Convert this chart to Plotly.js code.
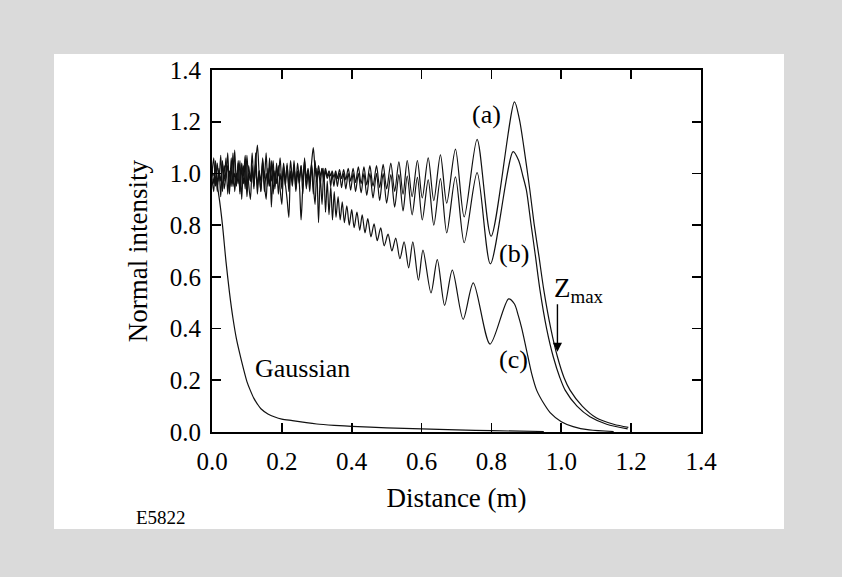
<!DOCTYPE html>
<html>
<head>
<meta charset="utf-8">
<script src="https://cdn.plot.ly/plotly-3.0.1.min.js"></script>
<style>
html,body{margin:0;padding:0;background:#ffffff;}
#chart{width:842px;height:577px;}
</style>
</head>
<body>
<div id="chart"></div>
<script>
// ---- tick labels ----
var xTickVals = [0, 0.2, 0.4, 0.6, 0.8, 1.0, 1.2, 1.4];
var xTickText = ["0.0", "0.2", "0.4", "0.6", "0.8", "1.0", "1.2", "1.4"];
var yTickVals = [0, 0.2, 0.4, 0.6, 0.8, 1.0, 1.2, 1.4];
var yTickText = ["0.0", "0.2", "0.4", "0.6", "0.8", "1.0", "1.2", "1.4"];

// ---- noisy start region (shared sampling positions, m) ----
var xNoise = [0,0.005,0.01,0.015,0.02,0.025,0.03,0.035,0.04,0.045,0.05,0.055,0.06,0.065,0.07,0.075,0.08,0.085,0.09,0.095,0.1,0.105,0.11,0.115,0.12,0.125,0.13,0.135,0.14,0.145,0.15,0.155,0.16,0.165,0.17,0.175,0.18,0.185,0.19,0.195,0.2,0.205,0.21,0.215,0.22,0.225,0.23,0.235,0.24,0.245,0.25,0.255,0.26,0.265,0.27,0.275,0.28,0.285,0.29,0.295,0.3,0.305,0.31,0.315,0.32,0.325,0.33];
var aNoise = [1.00,1.06,0.95,1.04,0.97,1.07,0.93,1.03,0.98,1.08,0.94,1.02,0.96,1.09,0.95,1.05,0.92,1.04,0.99,1.07,0.94,1.03,0.97,1.08,0.96,1.04,1.11,1.00,0.93,1.06,0.98,1.08,0.95,1.03,0.97,1.05,0.94,1.02,0.99,1.06,0.96,1.04,0.97,1.03,0.95,1.05,0.98,1.02,0.96,1.04,0.98,1.03,0.97,1.05,0.98,1.02,0.97,1.04,1.10,1.02,0.98,1.03,0.99,1.02,0.98,1.02,0.99];
var bNoise = [0.98,0.93,1.05,0.96,1.02,0.91,1.04,0.97,1.06,0.92,1.01,0.95,1.08,0.93,1.00,0.96,1.05,0.90,1.03,0.94,1.07,0.96,0.90,1.02,0.95,1.04,0.92,1.01,0.97,1.05,0.93,1.00,0.96,1.06,0.87,1.02,0.95,1.04,0.92,1.00,0.94,1.03,0.96,0.90,0.83,1.01,0.95,1.03,0.93,1.00,0.96,0.82,0.95,1.04,0.94,1.01,0.96,1.03,0.92,1.05,0.97,1.01,0.96,1.02,0.97,1.01,0.98];
var cNoise = [1.02,0.96,1.04,0.93,1.01,0.97,1.05,0.94,0.99,1.03,0.92,1.06,0.95,1.00,0.97,1.04,0.93,1.02,0.96,1.05,0.91,1.00,0.97,1.03,0.94,1.08,0.95,1.01,0.93,1.04,0.96,0.90,1.02,0.95,1.05,0.92,1.01,0.96,1.03,0.94,0.88,1.02,0.95,1.04,0.93,1.00,0.97,1.05,0.94,1.01,0.96,1.03,0.92,1.06,0.95,1.00,0.93,1.04,0.96,0.88,1.02,0.81,0.99,0.88,1.02,0.85,0.97];

// ---- curve (a) ----
var xA = [0.335,0.34,0.344,0.349,0.354,0.359,0.365,0.371,0.377,0.383,0.39,0.397,0.404,0.411,0.419,0.427,0.435,0.443,0.452,0.461,0.471,0.48,0.49,0.5,0.512,0.523,0.535,0.547,0.559,0.573,0.588,0.602,0.619,0.635,0.654,0.672,0.697,0.722,0.759,0.799,0.866,0.88,0.893,0.91,0.922,0.936,0.95,0.97,0.989,1.008,1.025,1.06,1.1,1.15,1.192];
var yA = [1.01,0.99,1.01,0.985,1.01,0.98,1.015,0.98,1.015,0.975,1.02,0.97,1.02,0.965,1.025,0.96,1.025,0.955,1.03,0.95,1.03,0.945,1.035,0.94,1.04,0.93,1.045,0.92,1.05,0.91,1.05,0.905,1.06,0.895,1.072,0.885,1.094,0.832,1.132,0.757,1.277,1.21,1.10,0.936,0.807,0.68,0.549,0.40,0.291,0.21,0.162,0.10,0.055,0.03,0.018];

// ---- curve (b) ----
var xB = [0.335,0.34,0.344,0.349,0.354,0.359,0.365,0.371,0.377,0.383,0.39,0.397,0.404,0.411,0.419,0.427,0.435,0.443,0.452,0.461,0.471,0.48,0.49,0.5,0.512,0.523,0.535,0.547,0.559,0.573,0.588,0.602,0.619,0.635,0.654,0.672,0.697,0.722,0.759,0.797,0.862,0.878,0.89,0.90,0.913,0.926,0.939,0.958,0.977,0.996,1.011,1.045,1.082,1.13,1.19];
var yB = [1.0,0.95,1.0,0.95,1.0,0.95,1.0,0.945,1.0,0.94,1.0,0.935,1.0,0.93,1.0,0.925,1.0,0.915,1.0,0.905,1.0,0.895,1.0,0.885,0.995,0.87,0.995,0.855,0.99,0.84,0.985,0.82,0.975,0.80,0.98,0.77,0.987,0.732,1.003,0.65,1.084,1.05,0.99,0.936,0.807,0.68,0.549,0.40,0.291,0.21,0.162,0.10,0.059,0.03,0.012];

// ---- curve (c) ----
var xC = [0.335,0.34,0.345,0.35,0.355,0.361,0.367,0.373,0.379,0.386,0.393,0.4,0.407,0.415,0.423,0.43,0.438,0.446,0.455,0.464,0.473,0.483,0.493,0.504,0.515,0.526,0.538,0.55,0.563,0.575,0.591,0.604,0.627,0.645,0.666,0.688,0.719,0.748,0.796,0.849,0.866,0.877,0.887,0.9,0.915,0.93,0.95,0.968,1.0,1.034,1.08,1.15];
var yC = [0.84,0.95,0.82,0.93,0.83,0.91,0.82,0.89,0.81,0.875,0.80,0.86,0.79,0.85,0.78,0.84,0.77,0.825,0.755,0.805,0.74,0.79,0.72,0.765,0.70,0.75,0.67,0.735,0.635,0.735,0.587,0.703,0.538,0.667,0.49,0.626,0.436,0.577,0.34,0.515,0.495,0.45,0.40,0.32,0.227,0.16,0.11,0.075,0.04,0.021,0.008,0.002];

// ---- Gaussian ----
var xG = [0,0.01,0.02,0.03,0.04,0.05,0.06,0.07,0.08,0.09,0.10,0.11,0.12,0.13,0.14,0.16,0.18,0.20,0.23,0.27,0.30,0.35,0.40,0.50,0.60,0.70,0.80,0.95];
var yG = [1.0,0.985,0.91,0.80,0.66,0.54,0.44,0.36,0.30,0.245,0.195,0.16,0.13,0.108,0.09,0.07,0.058,0.05,0.044,0.036,0.031,0.026,0.022,0.016,0.012,0.008,0.005,0.002];

var FONT = "'Liberation Serif', 'Times New Roman', Times, serif";
var lineStyle = {color: '#111111', width: 1.2, shape: 'spline', smoothing: 0.8};

function curve(xs1, ys1, xs2, ys2) {
  return {
    type: 'scatter', mode: 'lines',
    x: xs1.concat(xs2), y: ys1.concat(ys2),
    line: lineStyle, hoverinfo: 'skip', showlegend: false
  };
}

var traces = [
  curve(xNoise, cNoise, xC, yC),
  curve(xNoise, bNoise, xB, yB),
  curve(xNoise, aNoise, xA, yA),
  {type: 'scatter', mode: 'lines', x: xG, y: yG,
   line: {color: '#111111', width: 1.2, shape: 'spline', smoothing: 0.8},
   hoverinfo: 'skip', showlegend: false}
];

// paper coords of white inner panel
var L = 212, R = 701, T = 70, B = 432;
function px2x(p) { return (p - L) / (R - L); }
function py2y(p) { return (B - p) / (B - T); }

var layout = {
  width: 842, height: 577,
  margin: {l: L, r: 842 - R, t: T, b: 577 - B, pad: 0},
  paper_bgcolor: '#dadada',
  plot_bgcolor: '#ffffff',
  font: {family: FONT, color: '#000000', size: 24},
  showlegend: false,
  shapes: [
    {type: 'rect', xref: 'paper', yref: 'paper', layer: 'below',
     x0: px2x(54), x1: px2x(784), y0: py2y(529), y1: py2y(54),
     fillcolor: '#ffffff', line: {width: 0}}
  ],
  xaxis: {
    range: [0, 1.4], tickmode: 'array', tickvals: xTickVals, ticktext: xTickText,
    ticks: 'inside', ticklen: 9, tickwidth: 1.6, tickcolor: '#000000',
    showline: true, linewidth: 2, linecolor: '#000000', mirror: 'ticks',
    showgrid: false, zeroline: false,
    tickfont: {family: FONT, size: 25, color: '#000000'},
    ticklabelstandoff: 6,
    title: {text: 'Distance (m)', font: {family: FONT, size: 27, color: '#000000'}, standoff: 14}
  },
  yaxis: {
    range: [0, 1.4], tickmode: 'array', tickvals: yTickVals, ticktext: yTickText,
    ticks: 'inside', ticklen: 9, tickwidth: 1.6, tickcolor: '#000000',
    showline: true, linewidth: 2, linecolor: '#000000', mirror: 'ticks',
    showgrid: false, zeroline: false,
    tickfont: {family: FONT, size: 25, color: '#000000'},
    ticklabelstandoff: 4,
    title: {text: 'Normal intensity', font: {family: FONT, size: 27, color: '#000000'}, standoff: 14}
  },
  annotations: [
    {x: 0.786, y: 1.226, xref: 'x', yref: 'y', text: '(a)', showarrow: false, font: {family: FONT, size: 26, color: '#000'}},
    {x: 0.865, y: 0.691, xref: 'x', yref: 'y', text: '(b)', showarrow: false, font: {family: FONT, size: 26, color: '#000'}},
    {x: 0.862, y: 0.281, xref: 'x', yref: 'y', text: '(c)', showarrow: false, font: {family: FONT, size: 26, color: '#000'}},
    {x: 0.26, y: 0.245, xref: 'x', yref: 'y', text: 'Gaussian', showarrow: false, font: {family: FONT, size: 26, color: '#000'}},
    {x: 1.05, y: 0.55, xref: 'x', yref: 'y', text: 'Z<sub>max</sub>', showarrow: false, font: {family: FONT, size: 27, color: '#000'}},
    {x: 0.989, y: 0.31, ax: 0.989, ay: 0.50, xref: 'x', yref: 'y', axref: 'x', ayref: 'y',
     text: '', showarrow: true, arrowhead: 2, arrowsize: 1.3, arrowwidth: 1.4, arrowcolor: '#000'},
    {x: px2x(134), y: py2y(517), xref: 'paper', yref: 'paper', xanchor: 'left', yanchor: 'middle',
     text: 'E5822', showarrow: false, font: {family: FONT, size: 19, color: '#000'}}
  ]
};

Plotly.newPlot('chart', traces, layout, {staticPlot: true, displayModeBar: false});
</script>
</body>
</html>
